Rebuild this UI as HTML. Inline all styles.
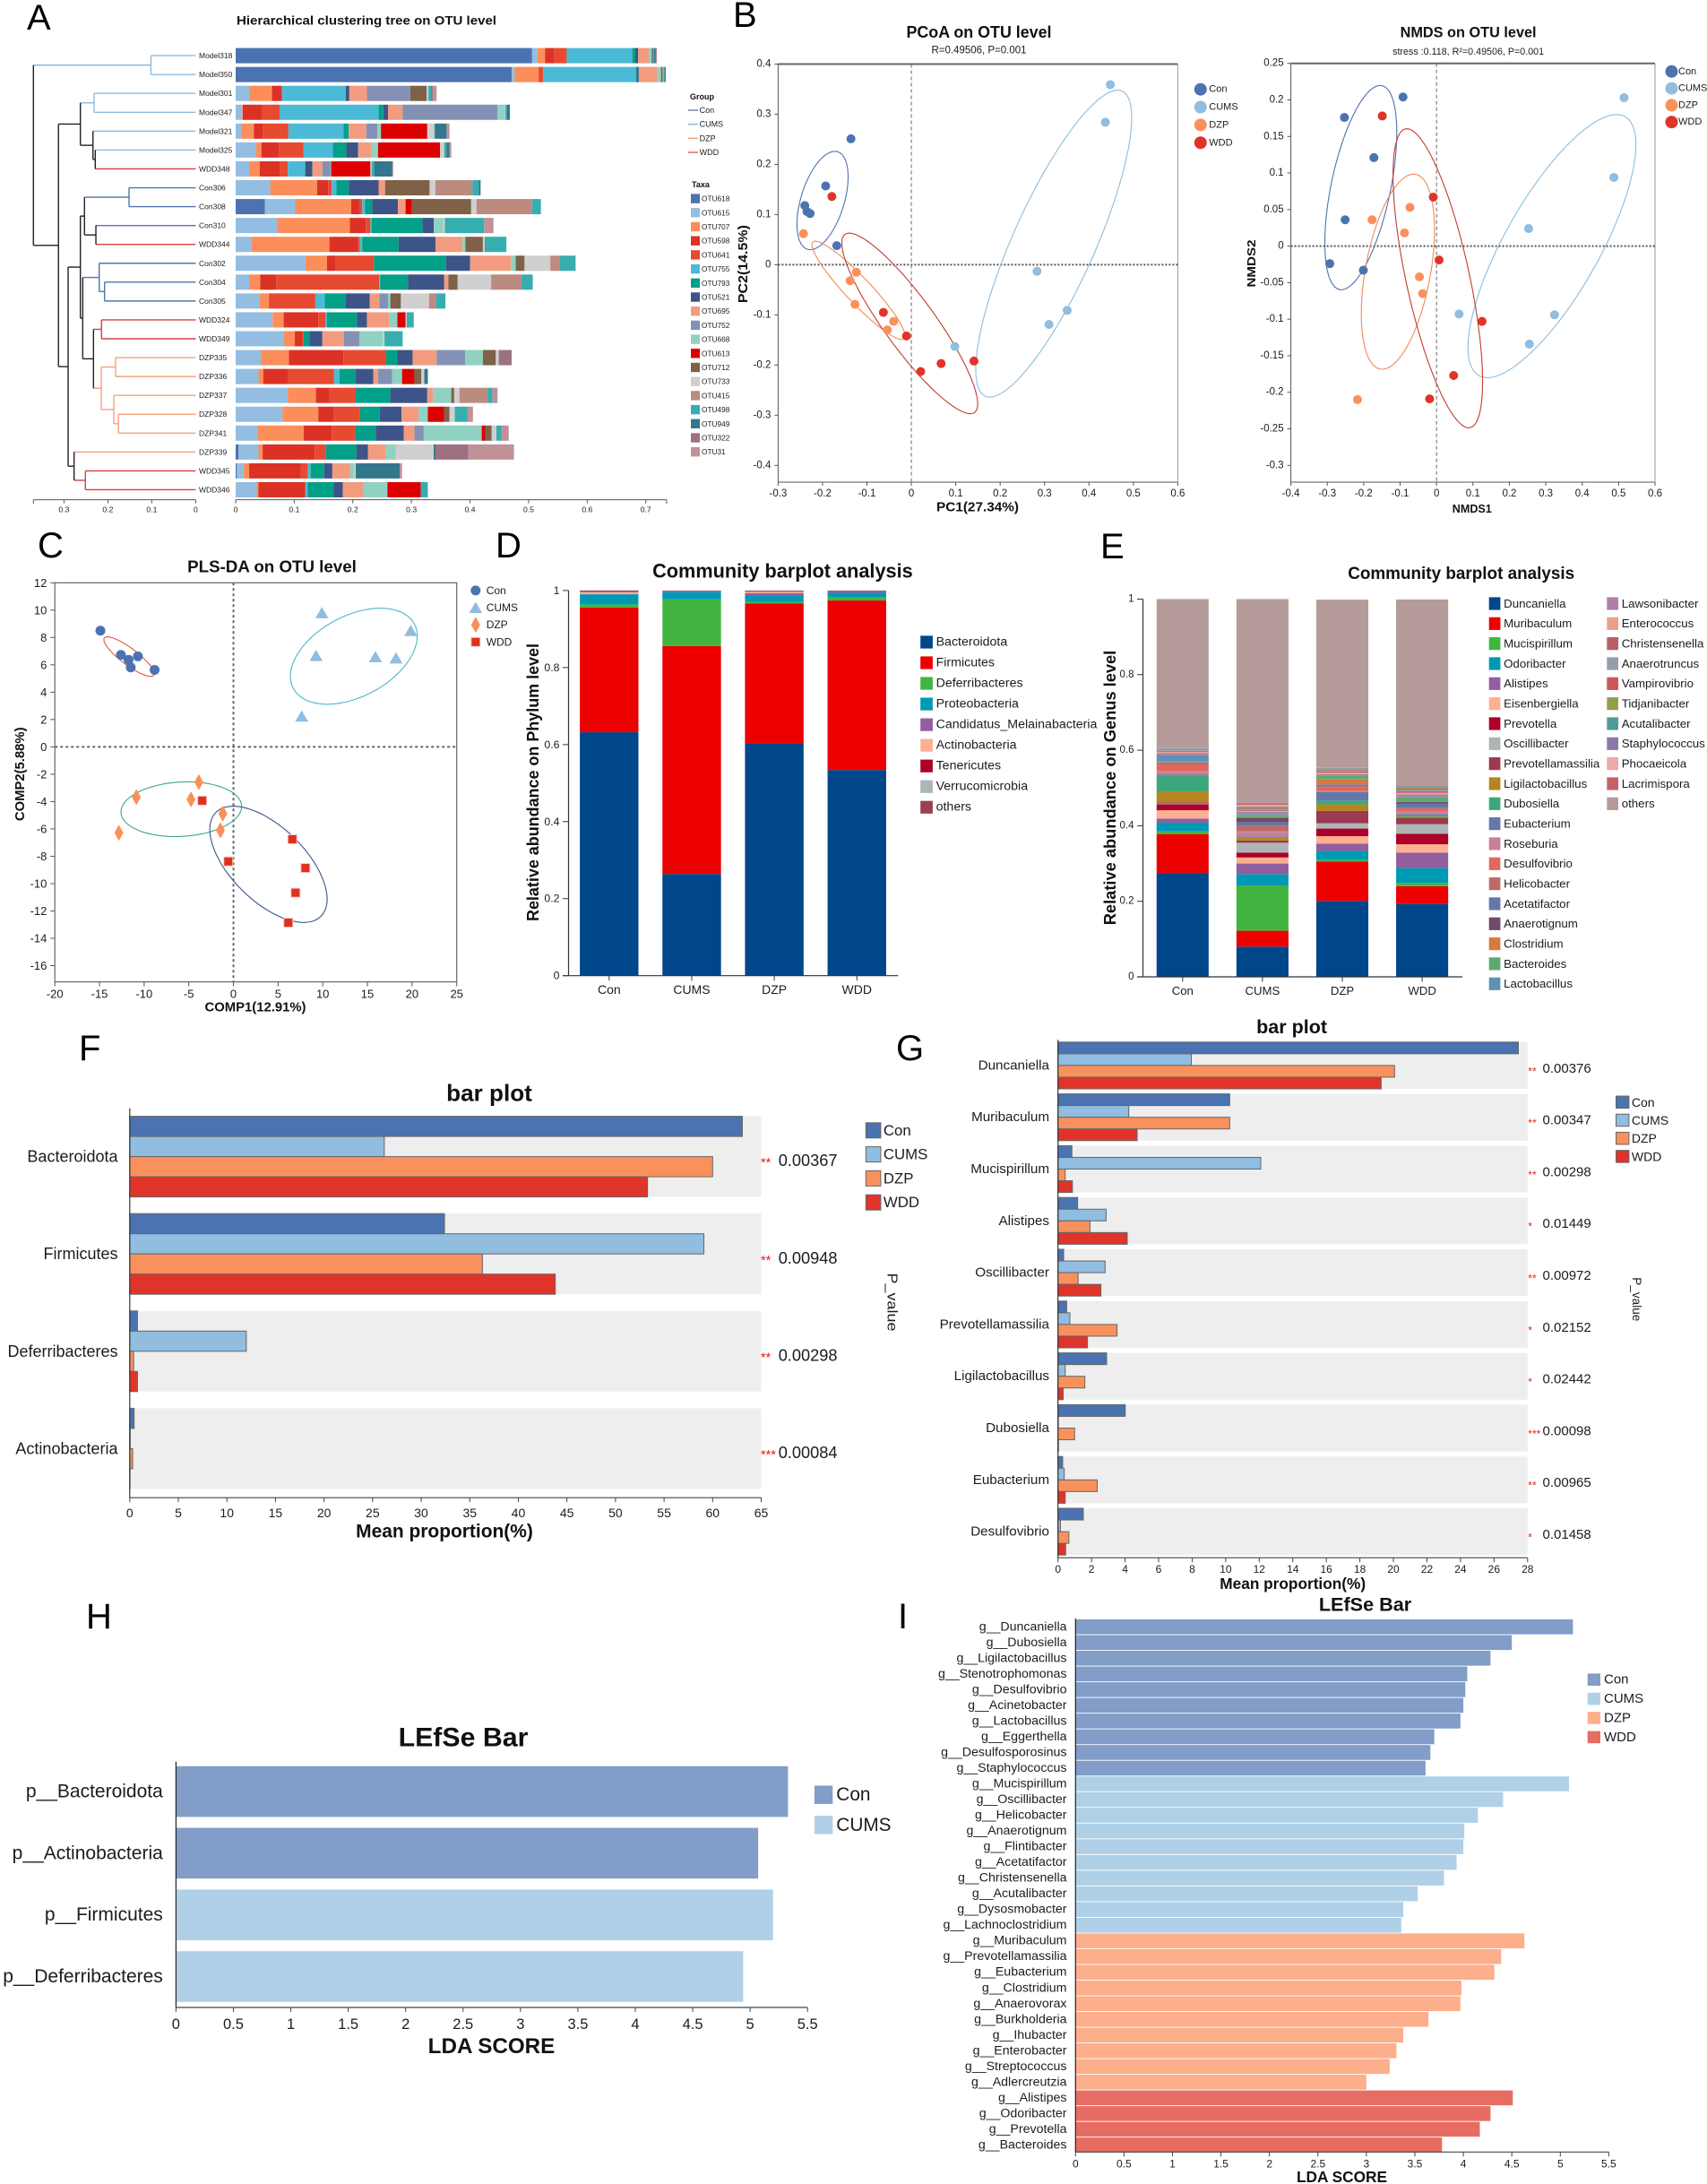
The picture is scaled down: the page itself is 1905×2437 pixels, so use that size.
<!DOCTYPE html>
<html lang="en">
<head>
<meta charset="utf-8">
<title>Gut microbiota composition figure</title>
<style>
html,body{margin:0;padding:0;background:#fff;}
svg{display:block;font-family:"Liberation Sans",Arial,sans-serif;}
text{dominant-baseline:central;fill:#1c1c1c;}
.b{font-weight:bold;fill:#111;}
.m{text-anchor:middle;}
.letter{dominant-baseline:auto;fill:#000;font-size:40px;}
</style>
</head>
<body>
<svg id="figure" xmlns="http://www.w3.org/2000/svg" width="1905" height="2437" viewBox="0 0 1905 2437">
<rect x="0" y="0" width="1905" height="2437" fill="#ffffff"/>

<text class="letter" x="30" y="33">A</text>
<text class="letter" x="818" y="30">B</text>
<text class="letter" x="42" y="622">C</text>
<text class="letter" x="553" y="622">D</text>
<text class="letter" x="1228" y="623">E</text>
<text class="letter" x="88" y="1183">F</text>
<text class="letter" x="1000" y="1183">G</text>
<text class="letter" x="96" y="1817">H</text>
<text class="letter" x="1002" y="1817">I</text>

<text class="b m" x="409" y="22.6" font-size="14" textLength="290" lengthAdjust="spacingAndGlyphs">Hierarchical clustering tree on OTU level</text>
<text class="b" x="770" y="108" font-size="9">Group</text>
<text class="b" x="772" y="206" font-size="9">Taxa</text>

<text class="b m" x="1092.5" y="36" font-size="18" textLength="162" lengthAdjust="spacingAndGlyphs">PCoA on OTU level</text>
<text class="m" x="1092.5" y="56.4" font-size="11.5" textLength="106" lengthAdjust="spacingAndGlyphs">R=0.49506, P=0.001</text>
<text class="b m" x="1091" y="566" font-size="15" textLength="92" lengthAdjust="spacingAndGlyphs">PC1(27.34%)</text>
<text class="b m" x="829.6" y="294.6" font-size="15" textLength="87" lengthAdjust="spacingAndGlyphs" transform="rotate(-90 829.6 294.6)">PC2(14.5%)</text>

<text class="b m" x="1638.6" y="36.5" font-size="16.5" textLength="152" lengthAdjust="spacingAndGlyphs">NMDS on OTU level</text>
<text class="m" x="1638.6" y="58" font-size="10.9" textLength="169" lengthAdjust="spacingAndGlyphs">stress :0.118, R²=0.49506, P=0.001</text>
<text class="b m" x="1642.8" y="568" font-size="12.6" textLength="44" lengthAdjust="spacingAndGlyphs">NMDS1</text>
<text class="b m" x="1397" y="294" font-size="12.6" textLength="53" lengthAdjust="spacingAndGlyphs" transform="rotate(-90 1397 294)">NMDS2</text>

<text class="b m" x="303.5" y="632" font-size="18.5" textLength="188.7" lengthAdjust="spacingAndGlyphs">PLS-DA on OTU level</text>
<text class="b m" x="285" y="1124.5" font-size="14.9" textLength="113" lengthAdjust="spacingAndGlyphs">COMP1(12.91%)</text>
<text class="b m" x="23" y="863.8" font-size="14.9" textLength="104.7" lengthAdjust="spacingAndGlyphs" transform="rotate(-90 23 863.8)">COMP2(5.88%)</text>

<text class="b m" x="873.4" y="637" font-size="22" textLength="290.6" lengthAdjust="spacingAndGlyphs">Community barplot analysis</text>
<text class="b m" x="594.8" y="873" font-size="18" textLength="310" lengthAdjust="spacingAndGlyphs" transform="rotate(-90 594.8 873)">Relative abundance on Phylum level</text>

<text class="b m" x="1630.7" y="640" font-size="19.4" textLength="253" lengthAdjust="spacingAndGlyphs">Community barplot analysis</text>
<text class="b m" x="1238.8" y="879" font-size="18" textLength="306.5" lengthAdjust="spacingAndGlyphs" transform="rotate(-90 1238.8 879)">Relative abundance on Genus level</text>

<text class="b m" x="546" y="1219.6" font-size="26" textLength="95.7" lengthAdjust="spacingAndGlyphs">bar plot</text>
<text class="b m" x="496" y="1709" font-size="21" textLength="197.7" lengthAdjust="spacingAndGlyphs">Mean proportion(%)</text>
<text class="m" x="995" y="1453" font-size="16" textLength="65" lengthAdjust="spacingAndGlyphs" transform="rotate(90 995 1453)">P_value</text>

<text class="b m" x="1441.6" y="1146" font-size="21.5" textLength="79" lengthAdjust="spacingAndGlyphs">bar plot</text>
<text class="b m" x="1442.7" y="1766.8" font-size="17.4" textLength="162.8" lengthAdjust="spacingAndGlyphs">Mean proportion(%)</text>
<text class="m" x="1827" y="1449.8" font-size="14" textLength="49" lengthAdjust="spacingAndGlyphs" transform="rotate(90 1827 1449.8)">P_value</text>

<text class="b m" x="517" y="1939" font-size="30" textLength="144.8" lengthAdjust="spacingAndGlyphs">LEfSe Bar</text>
<text class="b m" x="548.5" y="2283.5" font-size="24" textLength="141.6" lengthAdjust="spacingAndGlyphs">LDA SCORE</text>

<text class="b m" x="1523.5" y="1790" font-size="21.6" textLength="103.3" lengthAdjust="spacingAndGlyphs">LEfSe Bar</text>
<text class="b m" x="1497.5" y="2429.4" font-size="17.1" textLength="101" lengthAdjust="spacingAndGlyphs">LDA SCORE</text>
</svg>

<script>
/* ---------- Panel A data ---------- */
const sampleLabels = ['Model318','Model350','Model301','Model347','Model321','Model325','WDD348','Con306','Con308','Con310','WDD344','Con302','Con304','Con305','WDD324','WDD349','DZP335','DZP336','DZP337','DZP328','DZP341','DZP339','WDD345','WDD346'];
const otuNames = ['OTU618','OTU615','OTU707','OTU598','OTU641','OTU755','OTU793','OTU521','OTU695','OTU752','OTU668','OTU613','OTU712','OTU733','OTU415','OTU498','OTU949','OTU322','OTU31'];
const otuRows = [
[.506,.009,.013,.015,.022,.112,.005,.005,.018,0,.005,0,.002,0,0,.002,.003,.001,.001],
[.471,.005,.041,0,.008,.158,.002,.003,.032,0,.006,0,.003,.001,0,.002,.002,0,0],
[0,.023,.039,.017,0,.109,0,.006,.03,.074,0,0,.028,.003,0,.005,.001,.002,.006],
[0,.011,.001,.033,.03,.169,.008,.008,.025,.162,.012,0,0,.001,0,.003,.005,0,0],
[0,.010,.021,.016,.043,.094,.009,0,.03,.019,.006,.079,0,.012,0,.001,.02,0,.005],
[0,.035,.009,.03,.042,.05,.023,.02,.022,0,.012,.106,0,.007,0,.004,.005,0,.003],
[0,.023,.018,.034,.014,.029,.001,.012,.017,.014,.001,.067,0,.002,0,.005,.03,.001,.001],
[0,.059,.08,.019,.006,.008,.021,.051,.011,0,0,0,.076,.01,.063,.011,.003,0,0],
[.05,.051,.096,.014,.005,.005,.012,.044,.013,0,0,.011,.101,.009,.095,.015,0,0,0],
[0,.071,.124,.027,.008,.002,.087,.019,0,0,.016,0,0,.003,0,.067,0,0,.016],
[0,.027,.133,.048,.004,.004,.062,.063,.046,0,.005,0,.03,.003,0,.037,0,0,0],
[0,.119,.037,.015,.065,0,.123,.041,.07,0,.008,0,.015,.044,.016,.026,.001,0,0],
[0,.023,.019,.027,.176,.002,.047,.062,.007,0,0,0,.016,.057,.052,.019,0,0,0],
[0,.041,.016,.002,.077,.016,.036,.041,.016,.015,.004,0,.018,.048,.012,.016,0,0,0],
[0,.063,.019,.059,.012,.003,.051,.017,.038,0,.014,.014,0,.002,0,.012,0,0,0],
[0,.082,.019,.013,.002,0,.01,.022,.037,.026,.041,0,0,.002,0,.031,0,0,0],
[0,.043,.048,.093,.073,0,.019,.026,.041,.049,.03,0,.022,.005,0,0,0,.022,0],
[0,.039,.008,.043,.078,.009,.028,.03,.008,.024,.017,.021,.012,.005,0,0,.006,0,0],
[0,.089,.048,.023,.045,0,.059,.063,.01,0,.031,0,.005,.009,.048,.008,0,0,.009],
[0,.08,.061,.027,.044,0,.034,.037,.029,0,.016,.028,.009,.009,0,.022,0,0,.009],
[0,.037,.079,.048,.04,0,.035,.048,.018,.016,.099,.006,.011,.008,0,.009,0,0,.012],
[.005,.034,.007,.089,.019,0,.052,.02,.03,0,.017,0,0,.065,0,0,.003,.056,.078],
[.002,.012,.009,.088,.012,.005,.023,.014,.03,0,.008,0,0,.002,0,0,.075,0,.004],
[0,.036,.003,.08,0,.004,.044,.016,.035,0,.041,.057,0,0,0,.012,0,0,0]
];
const clusterTree = [.3696,
  [.102,'Model318','Model350'],
  [.3125,
    [.2627,
      [.2314,'Model301','Model347'],
      [.234,'Model321',[.2288,'Model325','WDD348']]],
    [.2906,
      [.2627,
        [.2533,[.1518,'Con306','Con308'],[.2273,'Con310','WDD344']],
        [.2573,
          [.2198,'Con302',[.2076,'Con304','Con305']],
          [.2328,
            [.2145,'WDD324','WDD349'],
            [.2151,
              [.1824,'DZP335','DZP336'],
              [.1865,'DZP337',[.176,'DZP328','DZP341']]]]]],
      [.277,'DZP339',[.2512,'WDD345','WDD346']]]]];
const treeTicks = [0.3,0.2,0.1,0];
const otuTicks = [0,0.1,0.2,0.3,0.4,0.5,0.6,0.7];
const groupNames = ['Con','CUMS','DZP','WDD'];

/* ---------- Panel B data ---------- */
const pcoaCon = [[-.136,.251],[-.193,.157],[-.24,.118],[-.235,.106],[-.228,.102],[-.168,.038]];
const pcoaCums = [[.448,.359],[.437,.284],[.283,-.013],[.351,-.091],[.31,-.119],[.098,-.163]];
const pcoaDzp = [[-.243,.062],[-.124,-.015],[-.138,-.032],[-.127,-.079],[-.04,-.113],[-.054,-.13]];
const pcoaWdd = [[-.179,.136],[-.063,-.095],[-.011,-.142],[.021,-.213],[.067,-.197],[.141,-.192]];
const pcoaEllipses = [[-.2,.128,.0576,.098,.48],[.3206,.042,.1756,.306,.82],[-.119,-.051,.105,.098,-.93],[-.0036,-.117,.153,.18,-.89]];
const pcoaXTicks = [-0.3,-0.2,-0.1,0,0.1,0.2,0.3,0.4,0.5,0.6];
const pcoaYTicks = [0.4,0.3,0.2,0.1,0,-0.1,-0.2,-0.3,-0.4];

const nmdsCon = [[-.092,.204],[-.253,.176],[-.172,.121],[-.251,.036],[-.293,-.024],[-.201,-.033]];
const nmdsCums = [[.515,.203],[.487,.094],[.253,.024],[.062,-.093],[.324,-.094],[.255,-.134]];
const nmdsDzp = [[-.073,.053],[-.177,.036],[-.088,.018],[-.047,-.042],[-.038,-.065],[-.217,-.21]];
const nmdsWdd = [[-.149,.178],[-.009,.067],[.007,-.019],[.125,-.103],[.047,-.177],[-.019,-.209]];
const nmdsEllipses = [[-.208,.08,.0988,.1397,.54],[.317,0,.2305,.18,.77],[-.106,-.035,.1005,.1335,.43],[.0035,-.044,.123,.2046,-.69]];
const nmdsXTicks = [-0.4,-0.3,-0.2,-0.1,0,0.1,0.2,0.3,0.4,0.5,0.6];
const nmdsYTicks = [0.25,0.2,0.15,0.1,0.05,0,-0.05,-0.1,-0.15,-0.2,-0.25,-0.3];

/* ---------- Panel C data ---------- */
const plsCon = [[-14.9,8.5],[-12.6,6.73],[-11.75,6.37],[-10.7,6.62],[-11.5,5.81],[-8.83,5.63]];
const plsCums = [[9.9,9.8],[19.85,8.5],[9.25,6.67],[15.9,6.58],[18.2,6.49],[7.64,2.24]];
const plsDzp = [[-3.88,-2.58],[-10.87,-3.68],[-4.76,-3.84],[-1.19,-4.88],[-1.46,-6.1],[-12.83,-6.28]];
const plsWdd = [[-3.5,-3.93],[6.6,-6.76],[-.58,-8.38],[8.06,-8.86],[6.95,-10.67],[6.14,-12.86]];
const plsEllipses = [[-11.69,6.6,2.82,1.446,-.86],[13.48,6.63,7.1,3.51,.42],[-5.84,-4.56,6.76,2.0,.1],[3.92,-8.59,6.57,4.25,-.6]];
const plsXTicks = [-20,-15,-10,-5,0,5,10,15,20,25];
const plsYTicks = [12,10,8,6,4,2,0,-2,-4,-6,-8,-10,-12,-14,-16];

/* ---------- Panel D data ---------- */
const phylumNames = ['Bacteroidota','Firmicutes','Deferribacteres','Proteobacteria','Candidatus_Melainabacteria','Actinobacteria','Tenericutes','Verrucomicrobia','others'];
const phylumCon = [.632,.324,.008,.026,.001,.004,.001,.001,.003];
const phylumCums = [.264,.592,.121,.019,.003,0,0,0,.001];
const phylumDzp = [.602,.364,.004,.018,.005,.003,.001,.001,.002];
const phylumWdd = [.534,.44,.008,.012,.005,0,0,0,.001];
const phylumTicks = [0,0.2,0.4,0.6,0.8,1];

/* ---------- Panel E data ---------- */
const genusNames = ['Duncaniella','Muribaculum','Mucispirillum','Odoribacter','Alistipes','Eisenbergiella','Prevotella','Oscillibacter','Prevotellamassilia','Ligilactobacillus','Dubosiella','Eubacterium','Roseburia','Desulfovibrio','Helicobacter','Acetatifactor','Anaerotignum','Clostridium','Bacteroides','Lactobacillus','Lawsonibacter','Enterococcus','Christensenella','Anaerotruncus','Vampirovibrio','Tidjanibacter','Acutalibacter','Staphylococcus','Phocaeicola','Lacrimispora','others'];
const genusCon = [.275,.103,.007,.023,.011,.022,.016,.002,.003,.029,.042,.002,.01,.016,.005,.002,0,.001,.001,.017,.005,.004,.002,.002,.001,.002,.001,.001,.001,.001,.393];
const genusCums = [.08,.042,.12,.03,.028,.016,.013,.026,.006,.007,.002,.002,.012,.002,.014,.009,.012,.002,.006,.002,.006,.002,.002,.002,.002,.002,.002,.002,.004,.004,.541];
const genusDzp = [.201,.104,.004,.0245,.019,.02,.02,.014,.033,.017,.01,.023,.002,.01,.003,.004,.001,.014,.008,.002,.003,.004,.003,.002,.002,.002,.002,.001,.001,.001,.444];
const genusWdd = [.193,.047,.009,.039,.041,.022,.028,.025,.017,.003,.004,.003,.008,.006,.002,.012,.004,.002,.01,.002,.006,.004,.004,.004,.004,.004,.002,.002,.001,.001,.49];
const genusTicks = [0,0.2,0.4,0.6,0.8,1];
const barGroups = ['Con','CUMS','DZP','WDD'];

/* ---------- Panel F data ---------- */
const fCategories = ['Bacteroidota','Firmicutes','Deferribacteres','Actinobacteria'];
const fCon = [63.06,32.4,.8,.45];
const fCums = [26.2,59.1,12,.05];
const fDzp = [60,36.3,.4,.3];
const fWdd = [53.3,43.8,.8,.03];
const fStars = ['**','**','**','***'];
const fPValues = ['0.00367','0.00948','0.00298','0.00084'];
const fTicks = [0,5,10,15,20,25,30,35,40,45,50,55,60,65];

/* ---------- Panel G data ---------- */
const gCategories = ['Duncaniella','Muribaculum','Mucispirillum','Alistipes','Oscillibacter','Prevotellamassilia','Ligilactobacillus','Dubosiella','Eubacterium','Desulfovibrio'];
const gCon = [27.45,10.24,.83,1.17,.34,.52,2.9,4.01,.28,1.51];
const gCums = [7.95,4.22,12.09,2.87,2.81,.71,.43,.02,.37,.15];
const gDzp = [20.07,10.24,.43,1.91,1.2,3.52,1.6,.99,2.34,.65];
const gWdd = [19.27,4.72,.86,4.13,2.56,1.76,.31,.03,.43,.46];
const gStars = ['**','**','**','*','**','*','*','***','**','*'];
const gPValues = ['0.00376','0.00347','0.00298','0.01449','0.00972','0.02152','0.02442','0.00098','0.00965','0.01458'];
const gTicks = [0,2,4,6,8,10,12,14,16,18,20,22,24,26,28];

/* ---------- Panel H data ---------- */
const hCategories = ['p__Bacteroidota','p__Actinobacteria','p__Firmicutes','p__Deferribacteres'];
const hScores = [5.33,5.07,5.2,4.94];
const hGroups = [0,0,1,1];
const hLegend = ['Con','CUMS'];
const ldaTicks = [0,0.5,1,1.5,2,2.5,3,3.5,4,4.5,5,5.5];

/* ---------- Panel I data ---------- */
const iCategories = ['g__Duncaniella','g__Dubosiella','g__Ligilactobacillus','g__Stenotrophomonas','g__Desulfovibrio','g__Acinetobacter','g__Lactobacillus','g__Eggerthella','g__Desulfosporosinus','g__Staphylococcus','g__Mucispirillum','g__Oscillibacter','g__Helicobacter','g__Anaerotignum','g__Flintibacter','g__Acetatifactor','g__Christensenella','g__Acutalibacter','g__Dysosmobacter','g__Lachnoclostridium','g__Muribaculum','g__Prevotellamassilia','g__Eubacterium','g__Clostridium','g__Anaerovorax','g__Burkholderia','g__Ihubacter','g__Enterobacter','g__Streptococcus','g__Adlercreutzia','g__Alistipes','g__Odoribacter','g__Prevotella','g__Bacteroides'];
const iScores = [5.13,4.5,4.28,4.04,4.02,4.0,3.97,3.7,3.66,3.61,5.09,4.41,4.15,4.01,4.0,3.93,3.8,3.53,3.38,3.36,4.63,4.39,4.32,3.98,3.97,3.64,3.38,3.31,3.24,3.0,4.51,4.28,4.17,3.78];
const iGroups = [0,0,0,0,0,0,0,0,0,0,1,1,1,1,1,1,1,1,1,1,2,2,2,2,2,2,2,2,2,2,3,3,3,3];
const iLegend = ['Con','CUMS','DZP','WDD'];

/* ---------- Styles ---------- */
const otuColors = ['#4b73b1','#93bee2','#fb8e5a','#db3225','#e64a30','#4cbad6','#01a087','#3c5488','#f39b7f','#8491b4','#91d1c2','#dc0000','#7e6148','#cfcfcf','#bc8b80','#36aeb0','#32778c','#9c7283','#c09197'];
const groupColors = ['#4b73b1','#90bde0','#f9915c','#e0342a'];
const phylumColors = ['#00468b','#ed0000','#42b540','#0099b4','#925e9f','#fdaf91','#ad002a','#adb6b6','#9b3f55'];
const genusColors = ['#00468b','#ed0000','#42b540','#0099b4','#925e9f','#fdaf91','#ad002a','#adb6b6','#9b3a50','#b5851f','#3ea67c','#6478a8','#c98099','#e0685c','#bf6a6a','#6478a8','#6e4a6e','#d47a40','#5bab6e','#5e92b5','#b07fa8','#e9a08e','#b85f68','#959dad','#c9565a','#94a048','#4f9d9a','#8a79a8','#e8aaaa','#c96068','#b59b9a'];
const lefseColors = ['#819dc8','#b0d0e8','#fdae8b','#e76d64'];

/* ---------- Helpers ---------- */
const SVGNS = 'http://www.w3.org/2000/svg';
const figure = document.getElementById('figure');
function mk(tag, attrs, parent) {
  const e = document.createElementNS(SVGNS, tag);
  for (const k in attrs) e.setAttribute(k, attrs[k]);
  (parent || figure).appendChild(e);
  return e;
}
function linear(d0, d1, r0, r1) {
  return function (v) { return r0 + (v - d0) * (r1 - r0) / (d1 - d0); };
}
function panel(name) {
  const g = mk('g', {});
  
  
  return g;
}
function label(parent, x, y, str, size, anchor, name, fill) {
  const t = mk('text', { x: x, y: y, 'font-size': size, 'text-anchor': anchor || 'start' }, parent);
  if (fill) t.style.fill = fill;
  t.textContent = str;
  
  
  return t;
}
function rule(parent, x1, y1, x2, y2, color, width, name, dash) {
  const l = mk('line', { x1: x1, y1: y1, x2: x2, y2: y2, stroke: color, 'stroke-width': width }, parent);
  if (dash) l.setAttribute('stroke-dasharray', dash);
  
  
  return l;
}
function block(parent, x, y, w, h, fill, name, stroke) {
  const r = mk('rect', { x: x, y: y, width: Math.max(w, 0), height: Math.max(h, 0), fill: fill }, parent);
  if (stroke) { r.setAttribute('stroke', stroke); r.setAttribute('stroke-width', 1); }
  
  
  return r;
}
function xAxisTicks(parent, ticks, scale, y, len, labelY, size, color, prefix) {
  ticks.forEach(function (v) {
    rule(parent, scale(v), y, scale(v), y + len, color, 1, prefix + '-x-tick');
    label(parent, scale(v), labelY, String(v), size, 'middle', prefix + '-x-tick-label');
  });
}
function yAxisTicks(parent, ticks, scale, x, len, labelX, size, color, prefix) {
  ticks.forEach(function (v) {
    rule(parent, x - len, scale(v), x, scale(v), color, 1, prefix + '-y-tick');
    label(parent, labelX, scale(v), String(v), size, 'end', prefix + '-y-tick-label');
  });
}
function ellipsePath(e, xs, ys) {
  const cx = e[0], cy = e[1], sx = e[2], sy = e[3], r = e[4];
  let d = '';
  for (let a = 0; a < 360; a += 4) {
    const t = a * Math.PI / 180;
    const px = xs(cx + sx * Math.cos(t));
    const py = ys(cy + sy * (r * Math.cos(t) + Math.sqrt(1 - r * r) * Math.sin(t)));
    d += (a === 0 ? 'M' : 'L') + px.toFixed(1) + ' ' + py.toFixed(1);
  }
  return d + 'Z';
}

/* ---------- Panel A ---------- */
(function () {
  const g = panel('clustering-panel');
  const treeX = linear(0, 0.3, 218.4, 71.4);
  const barX = linear(0, 0.7, 263, 720.7);
  const rowY = function (i) { return 62.1 + i * 21.06; };
  const branchColors = { Model: '#8fb9dc', Con: '#4f76ab', DZP: '#f5a37a', WDD: '#cf423a' };
  const leafColor = function (n) {
    if (n.indexOf('Model') === 0) return branchColors.Model;
    if (n.indexOf('Con') === 0) return branchColors.Con;
    if (n.indexOf('DZP') === 0) return branchColors.DZP;
    return branchColors.WDD;
  };
  function drawNode(n) {
    if (typeof n === 'string') {
      return { x: treeX(0), y: rowY(sampleLabels.indexOf(n)), color: leafColor(n), pure: true };
    }
    const A = drawNode(n[1]), B = drawNode(n[2]);
    const x = treeX(n[0]), y = (A.y + B.y) / 2;
    const pure = A.pure && B.pure && A.color === B.color;
    const color = pure ? A.color : '#222222';
    [A, B].forEach(function (c) {
      const h = mk('path', { d: 'M' + x + ' ' + c.y + 'H' + c.x, fill: 'none', stroke: c.color, 'stroke-width': 1.4 }, g);
      
      
    });
    const v = mk('path', { d: 'M' + x + ' ' + A.y + 'V' + B.y, fill: 'none', stroke: color, 'stroke-width': 1.4 }, g);
    
    
    return { x: x, y: y, color: color, pure: pure };
  }
  drawNode(clusterTree);
  sampleLabels.forEach(function (s, i) {
    label(g, 222, rowY(i), s, 8.5, 'start', 'sample-label');
    let acc = 0;
    otuRows[i].forEach(function (v, j) {
      if (v > 0) block(g, barX(acc), rowY(i) - 8.5, barX(acc + v) - barX(acc), 17, otuColors[j], 'otu-segment');
      acc += v;
    });
  });
  rule(g, treeX(0.3696), 557.6, treeX(0), 557.6, '#555', 1, 'tree-axis-line');
  rule(g, treeX(0.3696), 557.6, treeX(0.3696), 562, '#555', 1, 'tree-axis-end-tick');
  xAxisTicks(g, treeTicks, treeX, 557.6, 4, 568.3, 8.6, '#555', 'tree');
  rule(g, barX(0), 557.6, 744, 557.6, '#555', 1, 'otu-axis-line');
  rule(g, 744, 557.6, 744, 562, '#555', 1, 'otu-axis-end-tick');
  xAxisTicks(g, otuTicks, barX, 557.6, 4, 568.3, 8.6, '#555', 'otu');
  const legendLine = ['#7a8fb8', '#93bee2', '#f4a27c', '#e4756c'];
  groupNames.forEach(function (n, i) {
    const y = 123 + i * 15.67;
    rule(g, 768, y, 779, y, legendLine[i], 1.6, 'group-legend-line');
    label(g, 780.6, y, n, 9, 'start', 'group-legend-label');
  });
  otuNames.forEach(function (n, i) {
    const y = 221.6 + i * 15.7;
    block(g, 771, y - 5.2, 10, 10.4, otuColors[i], 'taxa-legend-swatch');
    label(g, 783, y, n, 8.3, 'start', 'taxa-legend-label');
  });
})();

/* ---------- Panel B scatter plots ---------- */
function ordination(cfg) {
  const g = panel(cfg.name);
  const X = cfg.x, Y = cfg.y;
  rule(g, cfg.left, cfg.top, cfg.right, cfg.top, '#666', 2, cfg.name + '-top-border');
  rule(g, cfg.right, cfg.top, cfg.right, cfg.bottom, '#999', 1, cfg.name + '-right-border');
  rule(g, cfg.left, cfg.bottom, cfg.right, cfg.bottom, '#aaa', 2, cfg.name + '-bottom-border');
  rule(g, cfg.left, cfg.top, cfg.left, cfg.bottom, '#555', 1, cfg.name + '-left-border');
  xAxisTicks(g, cfg.xTicks, X, cfg.bottom, 4, 551, 11.5, '#555', cfg.name);
  yAxisTicks(g, cfg.yTicks, Y, cfg.left, 4, cfg.left - 8, 11.5, '#555', cfg.name);
  rule(g, X(0), cfg.top, X(0), cfg.bottom, '#666', 1, cfg.name + '-zero-vertical', '4 3');
  rule(g, cfg.left, Y(0), cfg.right, Y(0), '#555', 2, cfg.name + '-zero-horizontal', '2 2');
  const strokes = ['#4b73b1', '#8dbcdc', '#f08a58', '#c63a30'];
  cfg.ellipses.forEach(function (e, i) {
    const p = mk('path', { d: ellipsePath(e, X, Y), fill: 'none', stroke: strokes[i], 'stroke-width': 1.1 }, g);
    
    
  });
  cfg.series.forEach(function (s, i) {
    s.forEach(function (pt) {
      const c = mk('circle', { cx: X(pt[0]), cy: Y(pt[1]), r: 5, fill: groupColors[i] }, g);
      
      
    });
  });
  groupNames.forEach(function (n, i) {
    const y = cfg.legendY + i * cfg.legendStep;
    const c = mk('circle', { cx: cfg.legendX, cy: y, r: 7, fill: groupColors[i] }, g);
    
    
    label(g, cfg.legendX + cfg.legendGap, y, n, 11, 'start', 'legend-label');
  });
}
ordination({ name: 'pcoa-plot', left: 868.4, right: 1314.4, top: 71.5, bottom: 538,
  x: linear(-0.3, 0.6, 868.4, 1314.4), y: linear(-0.4, 0.4, 519.3, 71.5),
  xTicks: pcoaXTicks, yTicks: pcoaYTicks, ellipses: pcoaEllipses,
  series: [pcoaCon, pcoaCums, pcoaDzp, pcoaWdd], legendX: 1339.8, legendY: 99.7, legendStep: 19.85, legendGap: 9.5 });
ordination({ name: 'nmds-plot', left: 1440.6, right: 1847, top: 70.7, bottom: 538,
  x: linear(-0.4, 0.6, 1440.6, 1847), y: linear(-0.3, 0.25, 519.3, 70.7),
  xTicks: nmdsXTicks, yTicks: nmdsYTicks, ellipses: nmdsEllipses,
  series: [nmdsCon, nmdsCums, nmdsDzp, nmdsWdd], legendX: 1865.5, legendY: 79.8, legendStep: 18.8, legendGap: 7.5 });

/* ---------- Panel C ---------- */
(function () {
  const g = panel('plsda-plot');
  const X = linear(-20, 25, 61.2, 509.7), Y = linear(-16, 12, 1077.5, 650.3);
  const L = 61.2, R = 509.7, T = 650.3, B = 1095.6;
  const f = block(g, L, T, R - L, B - T, 'none', 'plsda-frame', '#666');
  f.setAttribute('stroke-width', 1.2);
  xAxisTicks(g, plsXTicks, X, B, 5, 1109, 13, '#555', 'plsda');
  yAxisTicks(g, plsYTicks, Y, L, 5, 52.4, 13, '#555', 'plsda');
  rule(g, L, Y(0), R, Y(0), '#666', 2, 'plsda-zero-horizontal', '3 3');
  rule(g, X(0), T, X(0), B, '#666', 2, 'plsda-zero-vertical', '3 3');
  const ellipseStroke = ['#e25341', '#4db6c9', '#3aa68c', '#3c5488'];
  plsEllipses.forEach(function (e, i) {
    const p = mk('path', { d: ellipsePath(e, X, Y), fill: 'none', stroke: ellipseStroke[i], 'stroke-width': 1.1 }, g);
    
    
  });
  function marker(kind, x, y) {
    let m;
    if (kind === 0) m = mk('circle', { cx: x, cy: y, r: 5.5, fill: '#4b73b1' }, g);
    if (kind === 1) m = mk('path', { d: 'M' + x + ' ' + (y - 6.6) + 'L' + (x + 7.3) + ' ' + (y + 6) + 'H' + (x - 7.3) + 'Z', fill: '#90bde0' }, g);
    if (kind === 2) m = mk('path', { d: 'M' + x + ' ' + (y - 9) + 'L' + (x + 5) + ' ' + y + 'L' + x + ' ' + (y + 9) + 'L' + (x - 5) + ' ' + y + 'Z', fill: '#f9905a' }, g);
    if (kind === 3) m = mk('rect', { x: x - 5, y: y - 5, width: 10, height: 10, fill: '#e0301e', stroke: '#f5c8c0', 'stroke-width': 1 }, g);
    
    
  }
  [plsCon, plsCums, plsDzp, plsWdd].forEach(function (s, k) {
    s.forEach(function (pt) { marker(k, X(pt[0]), Y(pt[1])); });
  });
  groupNames.forEach(function (n, i) {
    const y = 658.9 + i * 19.15;
    marker(i, 530.8, y);
    label(g, 542.7, y, n, 12, 'start', 'plsda-legend-label');
  });
})();

/* ---------- Panels D and E ---------- */
function stackedChart(cfg) {
  const g = panel(cfg.name);
  const Y = linear(0, 1, cfg.y0, cfg.y1);
  const X = function (i) { return cfg.x0 + i * cfg.step; };
  cfg.series.forEach(function (vals, i) {
    let acc = 0;
    vals.forEach(function (v, j) {
      if (v > 0) block(g, X(i) - cfg.barW / 2, Y(acc + v), cfg.barW, Y(acc) - Y(acc + v), cfg.colors[j], 'stack-segment-' + cfg.names[j].toLowerCase());
      acc += v;
    });
    rule(g, X(i), cfg.y0, X(i), cfg.y0 + 5.5, '#333', 1, 'category-tick');
    label(g, X(i), cfg.y0 + 15.5, barGroups[i], cfg.catSize, 'middle', 'category-label');
  });
  rule(g, cfg.axisX, cfg.y0, cfg.axisX, cfg.y1, '#333', 1.2, cfg.name + '-y-axis');
  rule(g, cfg.axisX - 6.5, cfg.y0, cfg.axisEnd, cfg.y0, '#333', 1.2, cfg.name + '-x-axis');
  yAxisTicks(g, cfg.ticks, Y, cfg.axisX, 6.5, cfg.axisX - 10, cfg.tickSize, '#333', cfg.name);
  cfg.names.forEach(function (n, i) {
    const col = i < cfg.colSize ? 0 : 1;
    const y = cfg.legendY + (i - col * cfg.colSize) * cfg.legendStep;
    const lx = cfg.legendX[col];
    block(g, lx, y - 7, cfg.swatch, 14.2, cfg.colors[i], 'legend-swatch');
    label(g, lx + cfg.swatch + 3.7, y, n, cfg.legendSize, 'start', 'legend-label');
  });
}
stackedChart({ name: 'phylum-barplot', x0: 679.8, step: 92.15, barW: 65.4, y0: 1088.7, y1: 658.9, axisX: 634.5, axisEnd: 1002.4,
  series: [phylumCon, phylumCums, phylumDzp, phylumWdd], colors: phylumColors, names: phylumNames, ticks: phylumTicks,
  tickSize: 12.3, catSize: 14, legendX: [1027.2], legendY: 716.4, legendStep: 23.03, colSize: 99, swatch: 13.7, legendSize: 14.2 });
stackedChart({ name: 'genus-barplot', x0: 1319.8, step: 89.1, barW: 58.1, y0: 1090, y1: 668.5, axisX: 1275.5, axisEnd: 1632,
  series: [genusCon, genusCums, genusDzp, genusWdd], colors: genusColors, names: genusNames, ticks: genusTicks,
  tickSize: 11.5, catSize: 13.2, legendX: [1661.7, 1793.3], legendY: 673.4, legendStep: 22.33, colSize: 20, swatch: 12.7, legendSize: 13.3 });

/* ---------- Panels F and G ---------- */
function groupedChart(cfg) {
  const g = panel(cfg.name);
  const X = linear(0, cfg.max, cfg.x0, cfg.x1);
  cfg.categories.forEach(function (c, i) {
    const top = cfg.top + i * cfg.step;
    block(g, cfg.x0, top, cfg.x1 - cfg.x0, cfg.bandH, '#eeeeee', 'row-band');
    cfg.series.forEach(function (s, k) {
      block(g, cfg.x0, top + k * cfg.bandH / 4, X(s[i]) - cfg.x0, cfg.bandH / 4, groupColors[k], 'bar-' + barGroups[k].toLowerCase(), '#666666');
    });
    label(g, cfg.labelX, top + cfg.bandH / 2, c, cfg.labelSize, 'end', 'row-label');
    label(g, cfg.starX, top + cfg.bandH / 2 + cfg.pOffset + 3, cfg.stars[i], cfg.starSize, 'start', 'significance-stars', '#e02020');
    label(g, cfg.pX, top + cfg.bandH / 2 + cfg.pOffset, cfg.pvals[i], cfg.pSize, 'start', 'p-value');
  });
  rule(g, cfg.x0, cfg.axisTop, cfg.x0, cfg.axisY, '#333', 1.2, cfg.name + '-y-axis');
  rule(g, cfg.x0, cfg.axisY, cfg.x1, cfg.axisY, '#444', 1.2, cfg.name + '-x-axis');
  xAxisTicks(g, cfg.ticks, X, cfg.axisY, 5, cfg.axisY + cfg.tickGap, cfg.tickSize, '#444', cfg.name);
  barGroups.forEach(function (n, i) {
    const y = cfg.legendY + i * cfg.legendStep;
    block(g, cfg.legendX, y - cfg.swatchH / 2, cfg.swatchW, cfg.swatchH, groupColors[i], 'legend-swatch', '#666666');
    label(g, cfg.legendX + cfg.swatchW + 3, y, n, cfg.legendSize, 'start', 'legend-label');
  });
}
groupedChart({ name: 'phylum-bar-plot', x0: 144.8, x1: 849.5, max: 65, top: 1245.6, step: 108.6, bandH: 90, axisTop: 1236.8, axisY: 1671.2,
  categories: fCategories, series: [fCon, fCums, fDzp, fWdd], stars: fStars, pvals: fPValues, ticks: fTicks,
  labelX: 131.5, labelSize: 18, starX: 849, starSize: 14.5, pX: 868.7, pSize: 18.2, pOffset: 4.6, tickGap: 17, tickSize: 14,
  legendX: 966.3, legendY: 1261.3, legendStep: 26.8, swatchW: 16.6, swatchH: 17, legendSize: 16.8 });
groupedChart({ name: 'genus-bar-plot', x0: 1180.7, x1: 1704.8, max: 28, top: 1162.8, step: 57.8, bandH: 52.2, axisTop: 1160.3, axisY: 1738.2,
  categories: gCategories, series: [gCon, gCums, gDzp, gWdd], stars: gStars, pvals: gPValues, ticks: gTicks,
  labelX: 1171, labelSize: 15.2, starX: 1705.3, starSize: 12, pX: 1721.5, pSize: 15, pOffset: 3.4, tickGap: 13, tickSize: 12,
  legendX: 1803.5, legendY: 1229.8, legendStep: 20.2, swatchW: 14.4, swatchH: 13.5, legendSize: 14 });

/* ---------- Panels H and I ---------- */
function lefseChart(cfg) {
  const g = panel(cfg.name);
  const X = linear(0, 5.5, cfg.x0, cfg.x1);
  cfg.categories.forEach(function (c, i) {
    const top = cfg.top + i * cfg.step;
    block(g, cfg.x0, top, X(cfg.scores[i]) - cfg.x0, cfg.barH, lefseColors[cfg.groups[i]], 'lda-bar');
    label(g, cfg.labelX, top + cfg.barH / 2, c, cfg.labelSize, 'end', 'taxon-label');
  });
  rule(g, cfg.x0, cfg.axisTop, cfg.x0, cfg.axisY, '#222', 1.2, cfg.name + '-y-axis');
  rule(g, cfg.x0, cfg.axisY, cfg.x1, cfg.axisY, '#444', 1.2, cfg.name + '-x-axis');
  xAxisTicks(g, ldaTicks, X, cfg.axisY, 5, cfg.axisY + cfg.tickGap, cfg.tickSize, '#444', cfg.name);
  cfg.legend.forEach(function (n, i) {
    const y = cfg.legendY + i * cfg.legendStep;
    block(g, cfg.legendX, y - cfg.swatchH / 2, cfg.swatchW, cfg.swatchH, lefseColors[i], 'legend-swatch');
    label(g, cfg.legendX + cfg.swatchW + 4, y, n, cfg.legendSize, 'start', 'legend-label');
  });
}
lefseChart({ name: 'lefse-phylum-plot', x0: 196.4, x1: 901.2, top: 1970.8, step: 68.8, barH: 56.6, axisTop: 1965.7, axisY: 2240,
  categories: hCategories, scores: hScores, groups: hGroups, legend: hLegend,
  labelX: 181.8, labelSize: 21, tickGap: 19, tickSize: 16.5,
  legendX: 908.9, legendY: 2002.7, legendStep: 33.6, swatchW: 20.4, swatchH: 20.4, legendSize: 20.8 });
lefseChart({ name: 'lefse-genus-plot', x0: 1200.3, x1: 1795.4, top: 1807, step: 17.52, barH: 16.6, axisTop: 1806, axisY: 2401.3,
  categories: iCategories, scores: iScores, groups: iGroups, legend: iLegend,
  labelX: 1190.5, labelSize: 14.2, tickGap: 13, tickSize: 12,
  legendX: 1771.7, legendY: 1874.2, legendStep: 21.4, swatchW: 14.3, swatchH: 13.6, legendSize: 15 });
</script>
</body>
</html>
